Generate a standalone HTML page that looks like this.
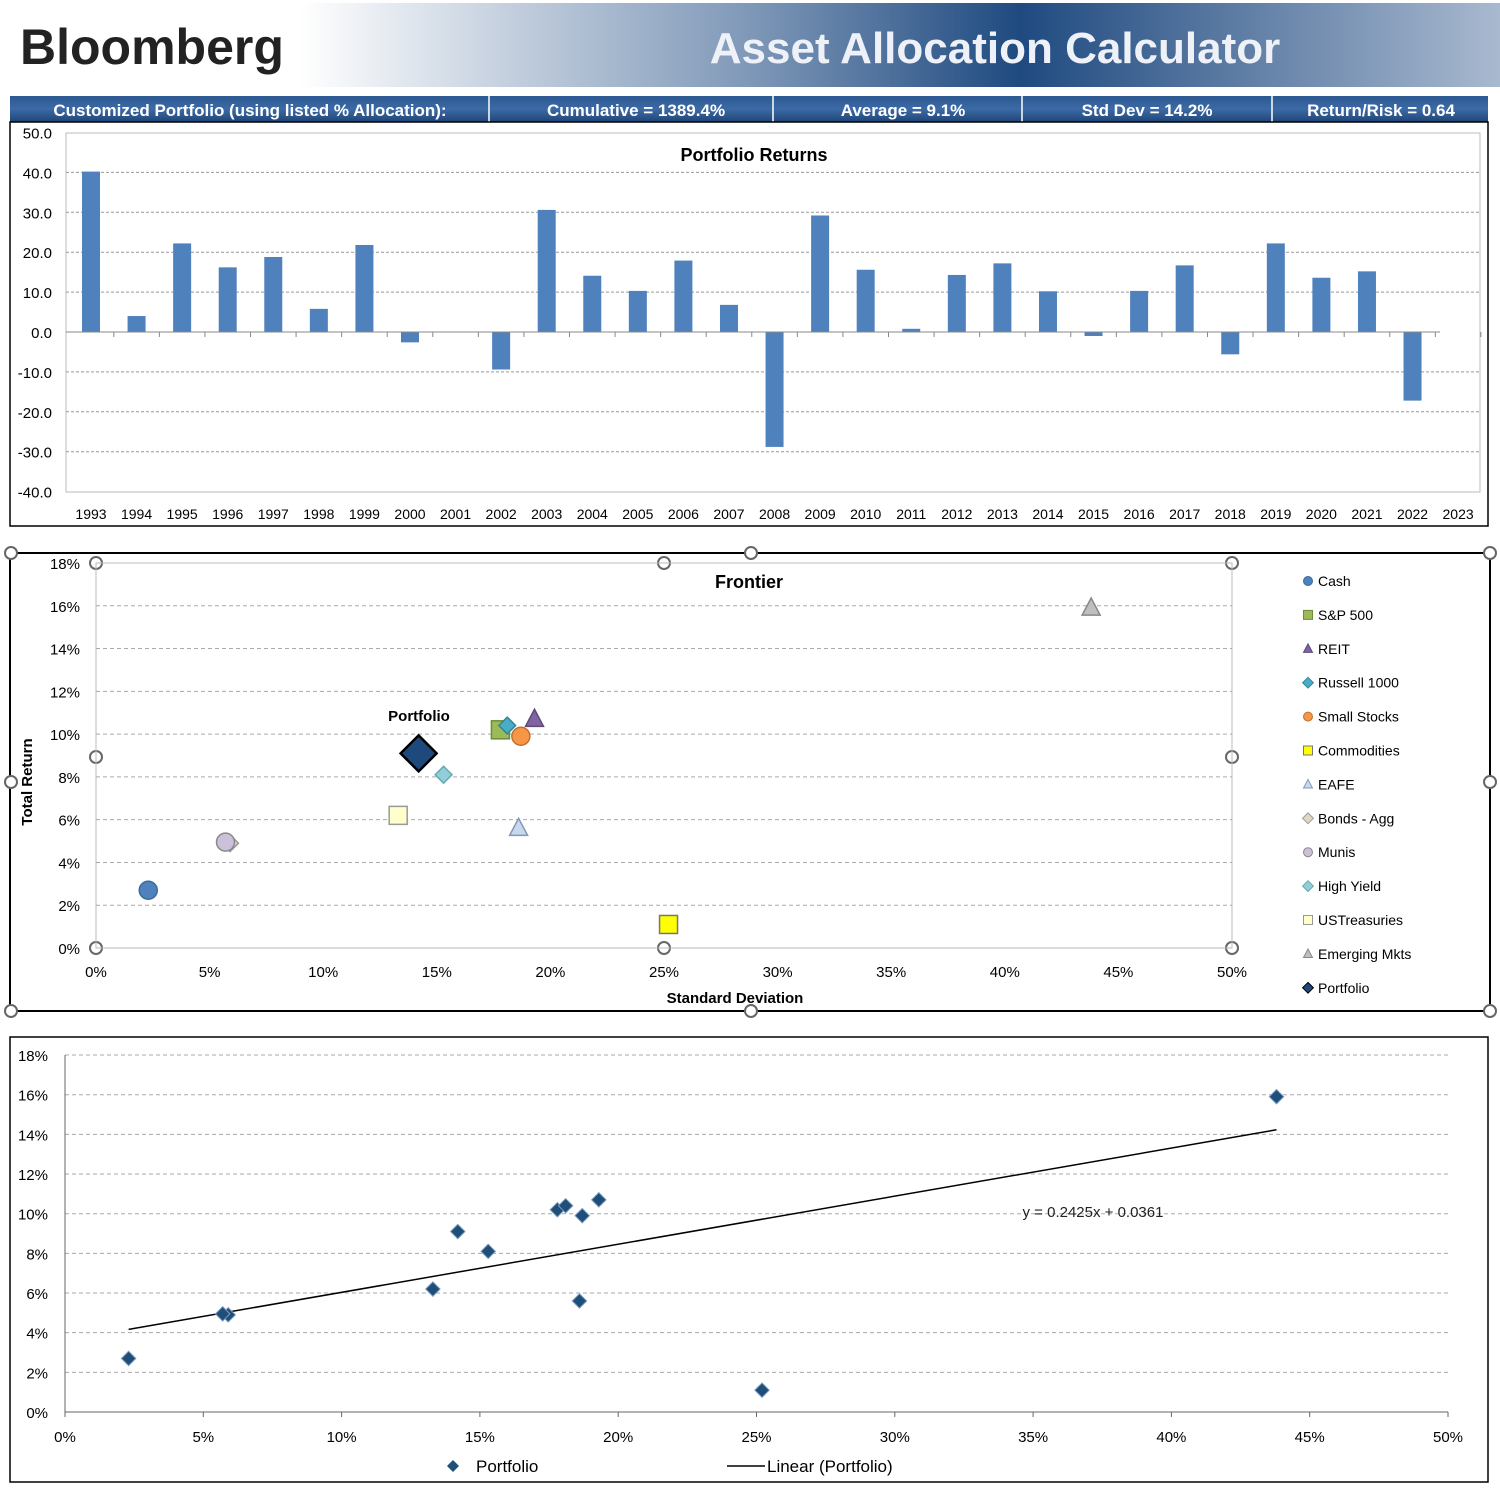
<!DOCTYPE html>
<html><head><meta charset="utf-8"><style>
body{margin:0;width:1500px;height:1492px;background:#fff;overflow:hidden;font-family:"Liberation Sans",sans-serif}
svg text{font-family:"Liberation Sans",sans-serif}
</style></head><body>
<svg id="s" width="1500" height="1492" viewBox="0 0 1500 1492" xmlns="http://www.w3.org/2000/svg">
<defs>
<linearGradient id="hg" x1="0" x2="1" y1="0" y2="0">
<stop offset="0.2" stop-color="#fff"/><stop offset="0.5" stop-color="#7f98b8"/><stop offset="0.68" stop-color="#1f4a80"/><stop offset="1" stop-color="#a9b9cf"/></linearGradient>
<linearGradient id="bg" x1="0" x2="0" y1="0" y2="1"><stop offset="0" stop-color="#2d5891"/><stop offset="0.5" stop-color="#3c6aa6"/><stop offset="1" stop-color="#1f4577"/></linearGradient>
</defs>
<rect x="0" y="3" width="1500" height="84" fill="url(#hg)"/>
<text x="20" y="64" font-size="50" font-weight="bold" fill="#222">Bloomberg</text>
<text x="995" y="63" font-size="44" font-weight="bold" fill="#eef2f8" text-anchor="middle">Asset Allocation Calculator</text>
<rect x="10" y="96" width="1478" height="26" fill="url(#bg)"/>
<g fill="#fff" font-size="17" font-weight="bold" text-anchor="middle">
<text x="250" y="116">Customized Portfolio (using listed % Allocation):</text>
<text x="636" y="116">Cumulative  =  1389.4%</text>
<text x="903" y="116">Average  =  9.1%</text>
<text x="1147" y="116">Std Dev   =   14.2%</text>
<text x="1381" y="116">Return/Risk   =   0.64</text>
</g>
<g stroke="#fff" stroke-width="1.5"><line x1="489" y1="96" x2="489" y2="122"/><line x1="773" y1="96" x2="773" y2="122"/><line x1="1022" y1="96" x2="1022" y2="122"/><line x1="1272" y1="96" x2="1272" y2="122"/></g>
<rect x="10" y="122" width="1478" height="404" fill="none" stroke="#000" stroke-width="1.5"/>
<rect x="66" y="133" width="1414" height="359" fill="none" stroke="#bbb"/>
<text x="754" y="161" font-size="18" font-weight="bold" text-anchor="middle">Portfolio Returns</text>
<g id="c1"></g>
<rect x="10" y="553" width="1480" height="458" fill="none" stroke="#000" stroke-width="2"/>
<g id="handles" fill="#fff" stroke="#666" stroke-width="2"></g>
<rect x="96" y="563" width="1136" height="385" fill="none" stroke="#bbb"/>
<text x="749" y="588" font-size="18" font-weight="bold" text-anchor="middle">Frontier</text>
<text x="735" y="1003" font-size="15" font-weight="bold" text-anchor="middle">Standard Deviation</text>
<text transform="translate(32,782) rotate(-90)" font-size="15" font-weight="bold" text-anchor="middle">Total Return</text>
<text x="419" y="721" font-size="15" font-weight="bold" text-anchor="middle">Portfolio</text>
<g id="c2"></g>
<g id="leg"></g>
<rect x="10" y="1037" width="1478" height="445" fill="none" stroke="#000" stroke-width="1.5"/>
<g id="c3"></g>
<text x="1093" y="1217" font-size="15" text-anchor="middle" fill="#222">y = 0.2425x + 0.0361</text>
<path d="M447 1466 l6 -6 l6 6 l-6 6z" fill="#1f4e79"/>
<text x="476" y="1472" font-size="17">Portfolio</text>
<line x1="727" y1="1466" x2="765" y2="1466" stroke="#000" stroke-width="1.5"/>
<text x="767" y="1472" font-size="17">Linear (Portfolio)</text>
</svg>
<script>
const years=[1993,1994,1995,1996,1997,1998,1999,2000,2001,2002,2003,2004,2005,2006,2007,2008,2009,2010,2011,2012,2013,2014,2015,2016,2017,2018,2019,2020,2021,2022,2023];
const returns=[40.2,4.0,22.2,16.2,18.8,5.8,21.8,-2.6,0,-9.4,30.6,14.1,10.3,17.9,6.8,-28.8,29.2,15.6,0.8,14.3,17.2,10.2,-1.0,10.3,16.7,-5.6,22.2,13.6,15.2,-17.2,0];
const yTicks1=[50,40,30,20,10,0,-10,-20,-30,-40];
const assets=["Cash","S&P 500","REIT","Russell 1000","Small Stocks","Commodities","EAFE","Bonds - Agg","Munis","High Yield","USTreasuries","Emerging Mkts","Portfolio"];
const stdDev=[2.3,17.8,19.3,18.1,18.7,25.2,18.6,5.9,5.7,15.3,13.3,43.8,14.2];
const totRet=[2.7,10.2,10.7,10.4,9.9,1.1,5.6,4.9,4.95,8.1,6.2,15.9,9.1];
const xTicks=[0,5,10,15,20,25,30,35,40,45,50];
const yTicksPct=[0,2,4,6,8,10,12,14,16,18];
const trendSlope=0.2425, trendIntercept=3.61;
const shapes=["circle","square","triangle","diamond","circle","square","triangle","diamond","circle","diamond","square","triangle","diamond"];
const fills=["#4f81bd","#9bbb59","#8064a2","#4bacc6","#f79646","#ffff00","#c6d9f1","#ddd9c3","#ccc0da","#92cddc","#ffffcc","#bfbfbf","#1f497d"];
const strokes=["#3a6a9e","#6f8a3c","#5d4a7a","#31859c","#c0712f","#777","#8497b0","#999","#888","#6aa","#999","#888","#000"];
const NS="http://www.w3.org/2000/svg";
function mk(p,t,a){const e=document.createElementNS(NS,t);for(const k in a)e.setAttribute(k,a[k]);p.appendChild(e);return e;}
// chart 1
const c1=document.getElementById('c1');
const y1=v=>332-v*3.99, x1=i=>91+i*45.57;
yTicks1.forEach(v=>{if(v!==0&&v!==50&&v!==-40){const l=mk(c1,'line',{x1:66,x2:1480,y1:y1(v),y2:y1(v),stroke:'#999','stroke-dasharray':'3 2'});}
const t=mk(c1,'text',{x:52,y:y1(v)+6,'font-size':15,'text-anchor':'end'});t.textContent=v.toFixed(1);});
returns.forEach((v,i)=>{const r=mk(c1,'rect',{x:x1(i)-9,y:Math.min(y1(v),y1(0)),width:18,height:Math.abs(y1(v)-y1(0)),fill:'#4f81bd'});
const t=mk(c1,'text',{x:x1(i),y:519,'font-size':14,'text-anchor':'middle'});t.textContent=years[i];});
const ax=mk(c1,'line',{x1:66,x2:1440,y1:y1(0),y2:y1(0),stroke:'#888'});
for(let i=0;i<=30;i++){const tk=mk(c1,'line',{x1:x1(i)+22.8,x2:x1(i)+22.8,y1:y1(0),y2:y1(0)+5,stroke:'#888'});}
// shapes
function marker(g,shape,cx,cy,s,fill,stroke,sw){let e;
if(shape==='circle')e=mk(g,'circle',{cx,cy,r:s});
else if(shape==='square')e=mk(g,'rect',{x:cx-s,y:cy-s,width:2*s,height:2*s});
else if(shape==='triangle')e=mk(g,'path',{d:`M${cx} ${cy-s*1.1} L${cx+s} ${cy+s*0.8} L${cx-s} ${cy+s*0.8}Z`});
else e=mk(g,'path',{d:`M${cx} ${cy-s*1.2} L${cx+s*1.2} ${cy} L${cx} ${cy+s*1.2} L${cx-s*1.2} ${cy}Z`});
e.setAttribute('fill',fill);e.setAttribute('stroke',stroke);e.setAttribute('stroke-width',sw);return e;}
// chart 2
const c2=document.getElementById('c2');
const x2=v=>96+v*22.72, y2=v=>948-v*21.39;
yTicksPct.forEach(v=>{if(v>0&&v<18){const l=mk(c2,'line',{x1:96,x2:1232,y1:y2(v),y2:y2(v),stroke:'#aaa','stroke-dasharray':'4 3'});}
const t=mk(c2,'text',{x:80,y:y2(v)+6,'font-size':15,'text-anchor':'end'});t.textContent=v+'%';});
xTicks.forEach(v=>{const t=mk(c2,'text',{x:x2(v),y:977,'font-size':15,'text-anchor':'middle'});t.textContent=v+'%';});
assets.forEach((a,i)=>{const isP=i===12;const m=marker(c2,shapes[i],x2(stdDev[i]),y2(totRet[i]),isP?15:(shapes[i]==='diamond'?7:9),fills[i],strokes[i],isP?2.5:1.5);});
// legend
const leg=document.getElementById('leg');
assets.forEach((a,i)=>{const y=581+i*33.9;const m=marker(leg,shapes[i],1308,y,4.5,fills[i],strokes[i],1);
const t=mk(leg,'text',{x:1318,y:y+5,'font-size':14});t.textContent=a;});
// handles
const hd=document.getElementById('handles');
[[11,553],[751,553],[1490,553],[11,782],[1490,782],[11,1011],[751,1011],[1490,1011],[96,563],[664,563],[1232,563],[96,757],[1232,757],[96,948],[664,948],[1232,948]].forEach(p=>{const c=mk(hd,'circle',{cx:p[0],cy:p[1],r:6});});
// chart 3
const c3=document.getElementById('c3');
const x3=v=>65+v*27.66, y3=v=>1412-v*19.83;
yTicksPct.forEach(v=>{if(v>0){const l=mk(c3,'line',{x1:65,x2:1448,y1:y3(v),y2:y3(v),stroke:'#aaa','stroke-dasharray':'4 3'});}
const t=mk(c3,'text',{x:48,y:y3(v)+6,'font-size':15,'text-anchor':'end'});t.textContent=v+'%';});
xTicks.forEach(v=>{const t=mk(c3,'text',{x:x3(v),y:1442,'font-size':15,'text-anchor':'middle'});t.textContent=v+'%';
const tk=mk(c3,'line',{x1:x3(v),x2:x3(v),y1:1412,y2:1417,stroke:'#666'});});
const a1=mk(c3,'line',{x1:65,x2:1448,y1:1412,y2:1412,stroke:'#666'});
const a2=mk(c3,'line',{x1:65,x2:65,y1:1055,y2:1412,stroke:'#666'});
const xmin=Math.min(...stdDev),xmax=Math.max(...stdDev);
const tl=mk(c3,'line',{x1:x3(xmin),y1:y3(trendSlope*xmin+trendIntercept),x2:x3(xmax),y2:y3(trendSlope*xmax+trendIntercept),stroke:'#000','stroke-width':1.5});
stdDev.forEach((v,i)=>{const m=marker(c3,'diamond',x3(v),y3(totRet[i]),6,'#1f4e79','#7a9cc0',1);});
</script>
</body></html>
